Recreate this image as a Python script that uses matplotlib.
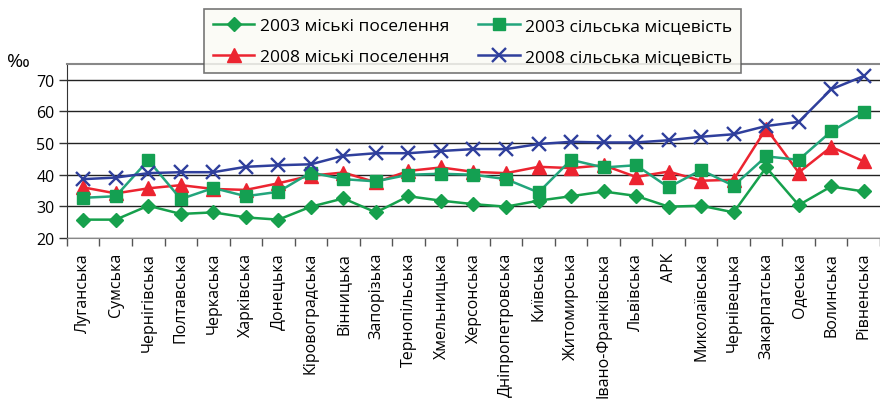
import numpy as np
import matplotlib.pyplot as plt
from matplotlib.ticker import FixedLocator

regions = ['Луганська', 'Сумська', 'Чернігівська', 'Полтавська', 'Черкаська',
           'Харківська', 'Донецька', 'Кіровоградська', 'Вінницька', 'Запорізька',
           'Тернопільська', 'Хмельницька', 'Херсонська', 'Дніпропетровська',
           'Київська', 'Житомирська', 'Івано-Франківська', 'Львівська', 'АРК',
           'Миколаївська', 'Чернівецька', 'Закарпатська', 'Одеська', 'Волинська',
           'Рівненська']

urban_2003 = [25.8, 25.8, 30.2, 27.6, 28.1, 26.5, 25.8, 29.9, 32.5, 28.1,
              33.2, 31.8, 30.7, 29.9, 31.8, 33.2, 34.7, 33.3, 29.9, 30.2,
              28.1, 42.3, 30.4, 36.3, 34.7]
rural_2003 = [32.7, 33.2, 44.6, 32.3, 35.8, 33.2, 34.6, 40.7, 38.6, 37.9,
              40.0, 40.3, 40.0, 38.6, 34.4, 44.7, 42.3, 43.0, 36.0, 41.5,
              36.5, 45.8, 44.7, 53.7, 59.7]
urban_2008 = [36.0, 34.1, 35.7, 36.7, 35.5, 35.2, 37.3, 39.7, 40.7, 37.6,
              41.2, 42.3, 40.9, 40.5, 42.5, 42.1, 43.0, 39.3, 41.0, 38.1,
              38.4, 54.6, 40.7, 48.8, 44.2]
rural_2008 = [38.6, 39.1, 40.5, 40.8, 40.8, 42.5, 43.0, 43.3, 46.0, 46.8,
              46.8, 47.5, 48.1, 48.1, 49.7, 50.4, 50.2, 50.2, 50.9, 52.0,
              52.8, 55.4, 56.7, 67.0, 71.2]

plt.rcParams['font.family'] = ['Open Sans', 'DejaVu Sans']

fig = plt.figure(figsize=(8.8, 4.02), dpi=100)
ax = fig.add_axes([0.0761, 0.4055, 0.9239, 0.4328])

x = np.arange(len(regions))
green = '#16a04c'
teal = '#22a57c'
sq_fill = '#14a052'
red = '#ec2430'
blue = '#2f3f9c'

ax.plot(x, urban_2003, color=green, lw=1.8, marker='D', ms=7.5,
        mfc=green, mec=green, label='2003 міські поселення')
ax.plot(x, urban_2008, color=red, lw=1.8, marker='^', ms=9.5,
        mfc=red, mec=red, label='2008 міські поселення')
ax.plot(x, rural_2003, color=teal, lw=1.8, marker='s', ms=8,
        mfc=sq_fill, mec=sq_fill, label='2003 сільська місцевість')
ax.plot(x, rural_2008, color=blue, lw=1.8, marker='x', ms=10, mew=1.7,
        label='2008 сільська місцевість')

ax.set_xlim(-0.5, len(regions) - 0.5)
ax.set_ylim(20, 75)
ax.set_yticks([20, 30, 40, 50, 60, 70])
ax.tick_params(axis='y', labelsize=11.5, length=6, width=1, color='#333333',
               pad=3)
ax.yaxis.grid(True, color='#222222', lw=1)
ax.set_axisbelow(True)

ax.set_xticks(x)
ax.set_xticklabels(regions, rotation=90, fontsize=11.5)
ax.tick_params(axis='x', which='major', length=0, pad=10)
ax.xaxis.set_minor_locator(FixedLocator(np.arange(-0.5, len(regions), 1.0)))
ax.tick_params(axis='x', which='minor', length=6, width=1, color='#555555')

ax.spines['right'].set_visible(False)
ax.spines['top'].set_color('#888888')
ax.spines['top'].set_linewidth(1.5)
ax.spines['bottom'].set_color('#888888')
ax.spines['left'].set_color('#333333')

fig.text(0.008, 0.834, '‰', fontsize=14, ha='left', va='baseline')

leg = fig.legend(loc='upper left', bbox_to_anchor=(204 / 880, 1 - 10 / 402),
                 ncol=2, fontsize=12.5, frameon=True, fancybox=False,
                 borderaxespad=0, handlelength=2.4, columnspacing=1.7,
                 borderpad=0.5, labelspacing=0.85, handletextpad=0.3)
leg.get_frame().set_edgecolor('#555555')
leg.get_frame().set_facecolor('#fbfbf4')
leg.get_frame().set_linewidth(1.2)

fig.savefig('out.png', dpi=100)
